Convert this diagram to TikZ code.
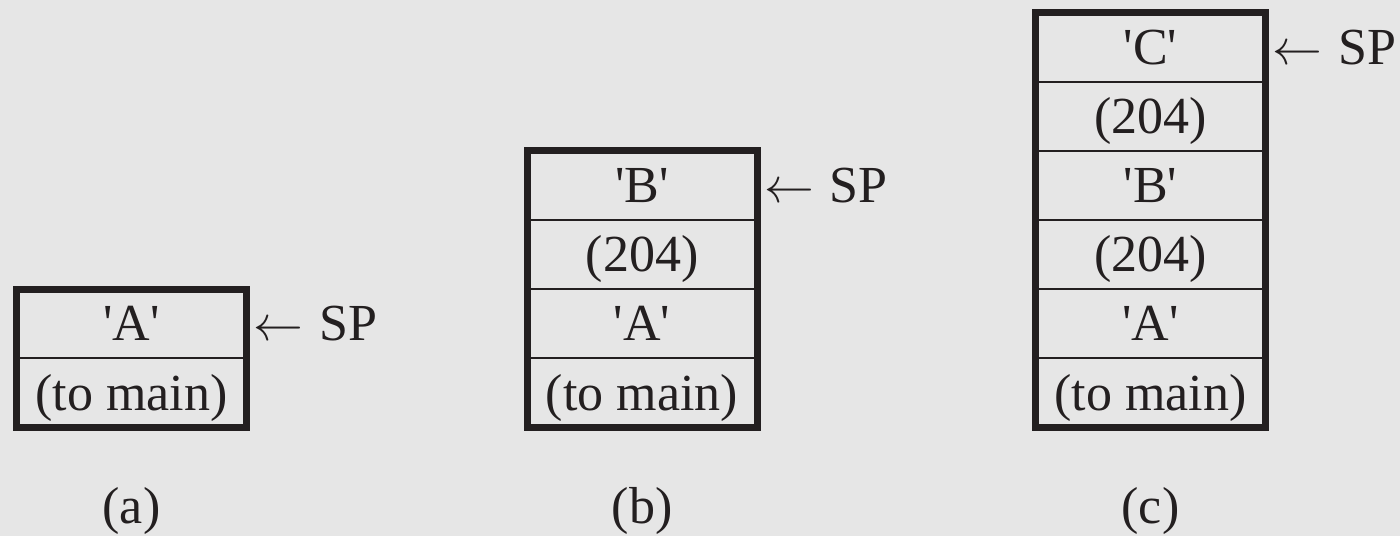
\documentclass[tikz,border=0pt]{standalone}
\usepackage{fontspec}
\setmainfont{Liberation Serif}
\usepackage{xcolor}
\definecolor{stackbg}{RGB}{230,230,230}
\definecolor{stackink}{RGB}{35,31,32}
\usetikzlibrary{positioning,fit}
\newcommand{\stkq}{\textquotesingle}
\newcommand{\stksp}{$\leftarrow$\hspace{8pt}SP}

\begin{document}
\begin{tikzpicture}[x=0.5pt,y=-0.5pt,font=\fontsize{26}{31}\selectfont]
        \tikzset{cell/.style={rectangle, draw=stackink, line width=1pt, minimum width=115pt,
            minimum height=34.6pt, inner sep=0pt, outer sep=0pt, text height=17.2pt,
            text depth=0pt, text=stackink},
          frame/.style={draw=stackink, line width=3.5pt, inner sep=0pt},
          sp/.style={anchor=west, inner sep=0pt, outer sep=0pt, xshift=3.5pt, text height=17.2pt,
            text depth=0pt, text=stackink},
          caption/.style={anchor=base, text=stackink}}
        \useasboundingbox[fill=stackbg] (0,0) rectangle (1400,536);
        % Stack (a)
        \node[cell, anchor=south] (a1) at (131.5,427.5) {(to main)};
        \node[cell, above=0pt of a1] (a2) {\stkq A\stkq};
        \node[frame, fit=(a1)(a2)] (fa) {};
        \node[sp] (spa) at (a2.east) {\stksp};
        \node[caption] (capa) at (131.5,523) {(a)};
        % Stack (b)
        \node[cell, anchor=south] (b1) at (642,427.5) {(to main)};
        \node[cell, above=0pt of b1] (b2) {\stkq A\stkq};
        \node[cell, above=0pt of b2] (b3) {(204)};
        \node[cell, above=0pt of b3] (b4) {\stkq B\stkq};
        \node[frame, fit=(b1)(b4)] (fb) {};
        \node[sp] (spb) at (b4.east) {\stksp};
        \node[caption] (capb) at (642,523) {(b)};
        % Stack (c)
        \node[cell, anchor=south] (c1) at (1150.5,427.5) {(to main)};
        \node[cell, above=0pt of c1] (c2) {\stkq A\stkq};
        \node[cell, above=0pt of c2] (c3) {(204)};
        \node[cell, above=0pt of c3] (c4) {\stkq B\stkq};
        \node[cell, above=0pt of c4] (c5) {(204)};
        \node[cell, above=0pt of c5] (c6) {\stkq C\stkq};
        \node[frame, fit=(c1)(c6)] (fc) {};
        \node[sp] (spc) at (c6.east) {\stksp};
        \node[caption] (capc) at (1150.5,523) {(c)};
      \end{tikzpicture}
\end{document}
